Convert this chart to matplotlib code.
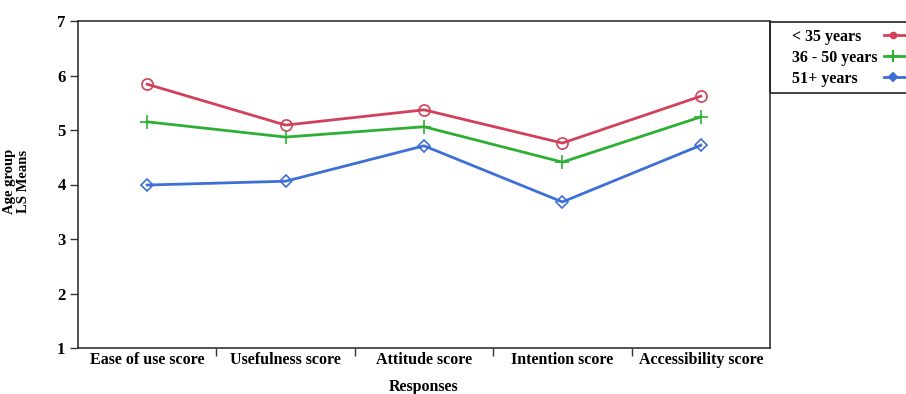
import numpy as np
import matplotlib
matplotlib.use('Agg')
import matplotlib.pyplot as plt
from matplotlib.lines import Line2D
from matplotlib.patches import Rectangle

plt.rcParams['font.family'] = 'Liberation Serif'
plt.rcParams['font.weight'] = 'bold'

# LS means per response score and age group
responses = ['Ease of use score', 'Usefulness score', 'Attitude score',
             'Intention score', 'Accessibility score']
groups = ['< 35 years', '36 - 50 years', '51+ years']
under35 = [5.84, 5.09, 5.37, 4.76, 5.62]
age36_50 = [5.15, 4.87, 5.06, 4.41, 5.24]
age51plus = [3.99, 4.06, 4.71, 3.68, 4.72]

series = [under35, age36_50, age51plus]
colors = ['#D2405A', '#2DAF33', '#3D6FD6']
markers = ['o', '+', 'D']
msizes = [8, 10, 6]

W, H = 906, 394
fig = plt.figure(figsize=(W / 100, H / 100), dpi=100)
ax = fig.add_axes([78 / W, 1 - 348 / H, 692 / W, 327 / H])

x = np.arange(len(responses))
for vals, lab, col, mk, ms in zip(series, groups, colors, markers, msizes):
    ax.plot(x, vals, color=col, lw=2.0, marker=mk, ms=ms, mfc='none',
            mec=col, mew=1.2, label=lab)

ax.set_xlim(-0.5, len(responses) - 0.5)
ax.set_ylim(1, 7)
ax.set_yticks(range(1, 8))
ax.set_xticks(x)
ax.set_xticklabels(responses, fontsize=11.5, fontweight='bold')
ax.set_xticks(x[:-1] + 0.5, minor=True)
ax.tick_params(axis='x', which='major', length=0, pad=3)
ax.tick_params(axis='x', which='minor', length=6, width=1, color='#333333')
ax.tick_params(axis='y', length=6, width=1, color='#333333', labelsize=12, pad=3)
for t in ax.get_yticklabels():
    t.set_fontweight('bold')
for s in ax.spines.values():
    s.set_color('#333333')
    s.set_linewidth(1.2)

ax.set_xlabel('Responses', fontsize=11.5, fontweight='bold', labelpad=8)
ax.set_ylabel('Age group\nLS Means', fontsize=10.5, fontweight='bold',
              linespacing=1.15)
ax.yaxis.set_label_coords(-0.069, 0.51)

# legend box to the right of the plot, running off the figure edge
fig.patches.append(Rectangle((770 / W, 1 - 93 / H), 150 / W, 71 / H,
                             transform=fig.transFigure, fill=False,
                             edgecolor='#222222', lw=1.2))
rows = [37, 58, 79]
for lab, col, mk, py in zip(groups, colors, markers, rows):
    fig.text(792 / W, 1 - py / H, lab, fontsize=11.5, fontweight='bold',
             va='center', ha='left')
    fig.lines.append(Line2D([884 / W, 910 / W], [1 - (py - 2) / H] * 2,
                            transform=fig.transFigure, color=col, lw=2.0))
    fig.lines.append(Line2D([893 / W], [1 - (py - 2) / H],
                            transform=fig.transFigure, color=col, marker=mk,
                            ms=4 if mk != '+' else 8, mfc=col, mec=col, mew=1.5))

fig.savefig('out.png', dpi=100)
